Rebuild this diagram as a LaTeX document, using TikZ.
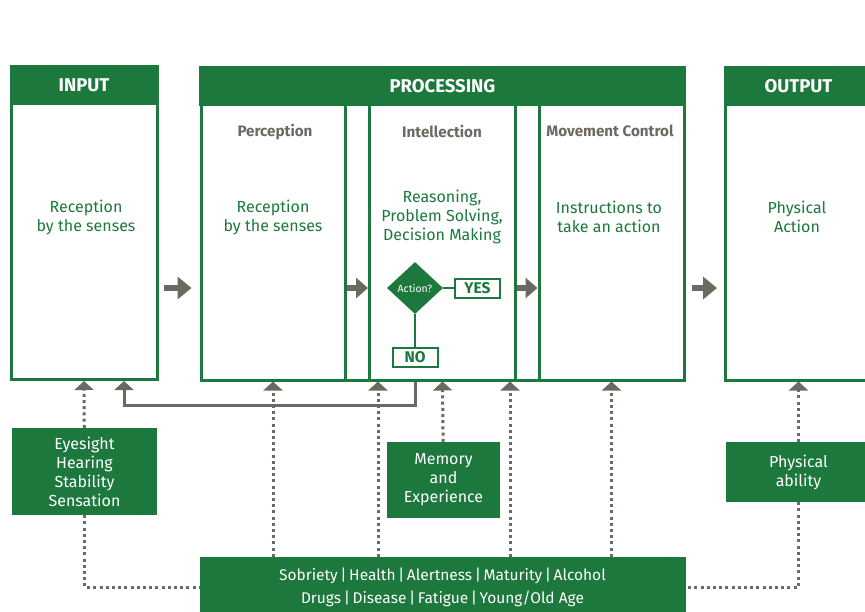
\documentclass[tikz,border=0pt]{standalone}
\usepackage{fontspec}
\setmainfont{Fira Sans}
\usetikzlibrary{shapes.geometric,arrows.meta}
\definecolor{hfgreen}{RGB}{28,120,60}
\definecolor{hfgrey}{RGB}{110,104,98}

\begin{document}
\begin{tikzpicture}[x=1pt,y=-1pt,
  panel/.style={draw=hfgreen,line width=3pt,minimum width=#1,minimum height=313pt,inner sep=0pt},
  head/.style={fill=hfgreen,text=white,font=\fontsize{18.5}{20}\selectfont\bfseries,minimum width=#1,minimum height=40pt,inner sep=0pt,anchor=north},
  sub/.style={text=hfgrey,font=\fontsize{15.2}{18}\selectfont\bfseries},
  body/.style={text=hfgreen,align=center,font=\fontsize{16}{19}\selectfont},
  tag/.style={fill=hfgreen,text=white,align=center,font=\fontsize{16}{19}\selectfont,inner sep=0pt},
  choice/.style={draw=hfgreen,line width=2pt,text=hfgreen,font=\fontsize{15.5}{17}\selectfont\bfseries,minimum width=45pt,minimum height=19pt,inner sep=0pt},
  bigarrow/.style={draw=hfgrey,line width=6pt,-{Triangle[length=14pt,width=22pt]}},
  gaparrow/.style={draw=hfgrey,line width=6pt,-{Triangle[length=12pt,width=20pt]}},
  dotline/.style={draw=hfgrey,line width=3pt,dash pattern=on 3pt off 3.2pt},
  dotarrow/.style={dotline,-{Triangle[length=9pt,width=19pt]}},
  fbarrow/.style={draw=hfgrey,line width=3pt,-{Triangle[length=9pt,width=19pt]}}]
\useasboundingbox (0,0) rectangle (865,611);

\node[panel=146pt] (input) at (84,223) {};
\node[head=149pt] (inputhead) at (input.north) {INPUT};
\node[body] (inputbody) at (86,217) {Reception\\by the senses};

\node[panel=483pt] (proc) at (442.5,223.5) {};
\node[panel=144pt] (perc) at (273,223.5) {};
\node[panel=146pt] (intel) at (442.5,223.5) {};
\node[panel=145pt] (move) at (611.5,223.5) {};
\node[head=487pt] (prochead) at (proc.north) {PROCESSING};
\node[sub] (perctitle) at (275,132) {Perception};
\node[sub] (inteltitle) at (442,131) {Intellection};
\node[sub] (movetitle) at (610,131) {Movement Control};
\node[body] (percbody) at (273,217) {Reception\\by the senses};
\node[body] (intelbody) at (442,217) {Reasoning,\\Problem Solving,\\Decision Making};
\node[body] (movebody) at (609,217) {Instructions to\\take an action};

\node[panel=146pt] (output) at (798.5,223.5) {};
\node[head=149pt] (outputhead) at (output.north) {OUTPUT};
\node[body] (outputbody) at (797,217) {Physical\\Action};

\node[diamond,fill=hfgreen,text=white,minimum width=56pt,minimum height=52pt,inner sep=0pt,font=\fontsize{10.5}{11}\selectfont] (action) at (415,288) {Action?};
\node[choice] (yes) at (477.5,288) {YES};
\node[choice] (no) at (415,357) {NO};
\draw[hfgreen,line width=2pt] (action) -- (yes);
\draw[hfgreen,line width=2pt] (action) -- (no);

\draw[bigarrow,shorten <=5pt,shorten >=8pt] (input.east |- action) -- (proc.west |- action);
\draw[bigarrow,shorten <=6.5pt,shorten >=7pt] (proc.east |- action) -- (output.west |- action);
\draw[gaparrow] (perc.east |- action) -- (intel.west |- action);
\draw[gaparrow] (intel.east |- action) -- (move.west |- action);

\node[tag,minimum width=145pt,minimum height=87pt] (senses) at (84.5,471.5) {Eyesight\\Hearing\\Stability\\Sensation};
\node[tag,minimum width=113pt,minimum height=76pt] (memory) at (443.5,480) {Memory\\and\\Experience};
\node[tag,minimum width=146pt,minimum height=60pt] (ability) at (798.5,472) {Physical\\ability};
\node[tag,minimum width=486pt,minimum height=60pt,font=\fontsize{15.5}{23}\selectfont] (factors) at (442.5,587)
  {Sobriety\,|\,Health\,|\,Alertness\,|\,Maturity\,|\,Alcohol\\Drugs\,|\,Disease\,|\,Fatigue\,|\,Young/Old Age};

\coordinate (fbturn) at (124,405);
\coordinate (intelleft) at (378,0);
\coordinate (intelright) at (510,0);
\draw[fbarrow] (no |- proc.south) |- (fbturn) -- (input.south -| fbturn);

\draw[dotarrow] (senses) -- (input.south);
\draw[dotline] (senses) |- (factors.west);
\draw[dotarrow] (factors.north -| perc.south) -- (perc.south);
\draw[dotarrow] (factors.north -| intelleft) -- (intel.south -| intelleft);
\draw[dotarrow] (memory) -- (intel.south);
\draw[dotarrow] (factors.north -| intelright) -- (intel.south -| intelright);
\draw[dotarrow] (factors.north -| move.south) -- (move.south);
\draw[dotarrow] (ability) -- (output.south);
\draw[dotline] (ability) |- (factors.east);
\end{tikzpicture}
\end{document}
